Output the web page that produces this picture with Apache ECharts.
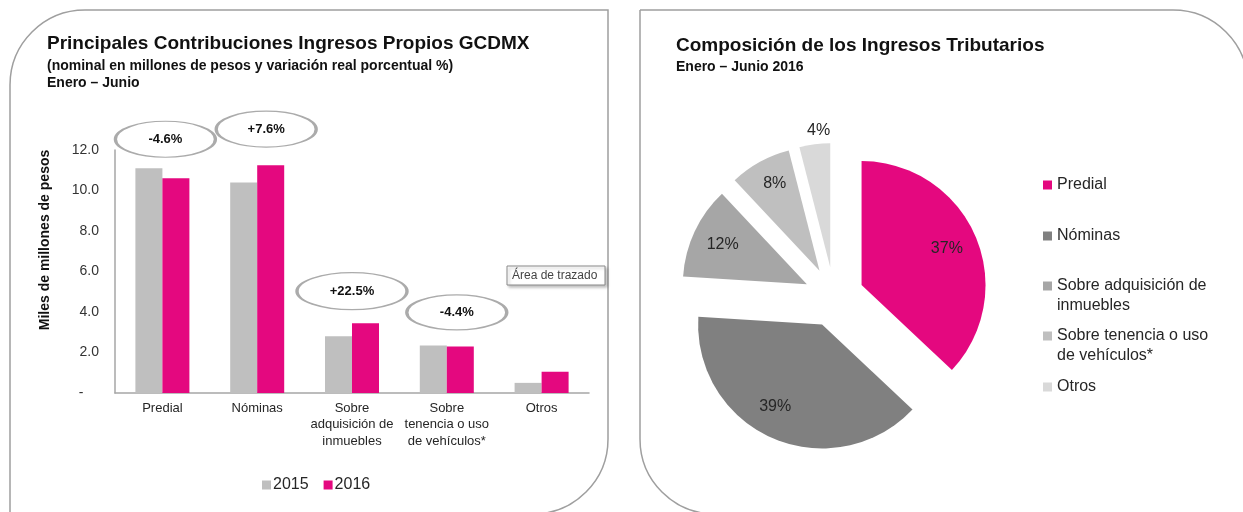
<!DOCTYPE html>
<html>
<head>
<meta charset="utf-8">
<script src="https://cdn.jsdelivr.net/npm/echarts@6/dist/echarts.min.js"></script>
<style>
    html, body { margin: 0; padding: 0; background: #fff; }
    #chart { width: 1243px; height: 512px; }
</style>
</head>
<body>
<div id="chart"></div>
<script>
// bar chart data (miles de millones de pesos)
const CATEGORIES = ['Predial', 'Nóminas', 'Sobre\nadquisición de\ninmuebles', 'Sobre\ntenencia o uso\nde vehículos*', 'Otros'];
const SERIES_NAMES = ['2015', '2016'];
const VALUES_2015 = [11.1, 10.4, 2.8, 2.35, 0.5];
const VALUES_2016 = [10.6, 11.25, 3.45, 2.3, 1.05];
const VARIATION = ['-4.6%', '+7.6%', '+22.5%', '-4.4%'];
const Y_MIN = 0;
const Y_MAX = 12;
const Y_STEP = 2;

// pie data (% of ingresos tributarios)
const PIE_NAMES = ['Predial', 'Nóminas', 'Sobre adquisición de inmuebles', 'Sobre tenencia o uso de vehículos*', 'Otros'];
const PIE_SHARES = [37, 39, 12, 8, 4];
const PIE_LEGEND_TEXT = ['Predial', 'Nóminas', 'Sobre adquisición de\ninmuebles', 'Sobre tenencia o uso\nde vehículos*', 'Otros'];

const MAGENTA = '#e4087f';
const BAR_COLORS = ['#bfbfbf', MAGENTA];
const PIE_COLORS = [MAGENTA, '#808080', '#a6a6a6', '#bfbfbf', '#d9d9d9'];
const FONT = '"Liberation Sans", Arial, sans-serif';

// ellipse callouts: pixel shift from the taller bar top, and size
const ELLIPSE_SHIFT = [[3, -29], [9, -36], [0, -32], [10, -33]];
const ELLIPSE_SIZE = [[100, 36], [100, 36], [110, 37], [100, 35]];
const ELLIPSE = 'path://M0,18A50,18,0,1,1,100,18A50,18,0,1,1,0,18Z';

const chart = echarts.init(document.getElementById('chart'));

const ellipseData = VARIATION.map((t, i) => ({
    value: [i, Math.max(VALUES_2015[i], VALUES_2016[i])],
    symbolOffset: ELLIPSE_SHIFT[i],
    symbolSize: ELLIPSE_SIZE[i]
}));

const pieData = PIE_NAMES.map((n, i) => ({
    name: n,
    value: PIE_SHARES[i],
    selected: true,
    itemStyle: { color: PIE_COLORS[i] }
}));

// one legend per pie item so the spacing can follow the original
const LEGEND_TOPS = [175, 226, 256, 306, 377];
const pieLegends = PIE_NAMES.map((n, i) => ({
    data: [n],
    left: 1043,
    top: LEGEND_TOPS[i],
    padding: 0,
    orient: 'vertical',
    icon: 'rect',
    itemWidth: 9,
    itemHeight: 9,
    itemGap: 0,
    selectedMode: false,
    formatter: () => (PIE_LEGEND_TEXT[i].indexOf('\n') >= 0 ? '\n' : '') + PIE_LEGEND_TEXT[i],
    textStyle: { fontSize: 16, lineHeight: 20, color: '#262626', fontFamily: FONT }
}));

chart.setOption({
    animation: false,
    textStyle: { fontFamily: FONT },
    title: [{
        text: 'Principales Contribuciones Ingresos Propios GCDMX',
        subtext: '(nominal en millones de pesos y variación real porcentual %)\nEnero – Junio',
        left: 47,
        top: 33,
        itemGap: 3,
        padding: 0,
        textStyle: { fontSize: 19, lineHeight: 22, fontWeight: 'bold', color: '#111' },
        subtextStyle: { fontSize: 14, lineHeight: 16.5, fontWeight: 'bold', color: '#111' }
    }, {
        text: 'Composición de los Ingresos Tributarios',
        subtext: 'Enero – Junio 2016',
        left: 676,
        top: 35,
        itemGap: 2,
        padding: 0,
        textStyle: { fontSize: 19, lineHeight: 22, fontWeight: 'bold', color: '#111' },
        subtextStyle: { fontSize: 14, lineHeight: 16, fontWeight: 'bold', color: '#111' }
    }],
    legend: [{
        data: SERIES_NAMES,
        left: 262,
        top: 477,
        padding: 0,
        icon: 'rect',
        itemWidth: 9,
        itemHeight: 9,
        itemGap: 15,
        selectedMode: false,
        textStyle: { fontSize: 16, color: '#262626', padding: [0, 0, 0, -3] }
    }].concat(pieLegends),
    grid: {
        left: 115,
        right: 654,
        top: 150,
        bottom: 119
    },
    xAxis: {
        type: 'category',
        data: CATEGORIES,
        axisTick: { show: false },
        axisLine: { lineStyle: { color: '#a6a6a6', width: 1.5 } },
        axisLabel: {
            interval: 0,
            margin: 7,
            fontSize: 13,
            lineHeight: 16.5,
            color: '#262626'
        }
    },
    yAxis: {
        type: 'value',
        min: Y_MIN,
        max: Y_MAX,
        interval: Y_STEP,
        axisLine: { show: true, lineStyle: { color: '#a6a6a6', width: 1.5 } },
        axisTick: { show: false },
        splitLine: { show: false },
        axisLabel: {
            margin: 16,
            fontSize: 14,
            color: '#333',
            formatter: v => (v === 0 ? '-    ' : v.toFixed(1))
        }
    },
    graphic: [{
        type: 'rect',
        shape: { x: 10, y: 10, width: 598, height: 504, r: [75, 0, 75, 0] },
        style: { fill: 'none', stroke: '#9f9f9f', lineWidth: 1.5 },
        silent: true
    }, {
        type: 'rect',
        shape: { x: 640, y: 10, width: 608, height: 504, r: [0, 75, 0, 75] },
        style: { fill: 'none', stroke: '#9f9f9f', lineWidth: 1.5 },
        silent: true
    }, {
        type: 'text',
        x: 45,
        y: 240,
        rotation: Math.PI / 2,
        style: {
            text: 'Miles de millones de pesos',
            font: 'bold 14px ' + FONT,
            fill: '#111',
            align: 'center',
            verticalAlign: 'middle'
        }
    }, {
        type: 'group',
        x: 507,
        y: 266,
        z: 100,
        children: [{
            type: 'rect',
            shape: { x: 0, y: 0, width: 98, height: 19 },
            style: {
                fill: '#fff', stroke: '#8a8a8a', lineWidth: 1,
                shadowBlur: 3, shadowOffsetX: 2, shadowOffsetY: 2, shadowColor: 'rgba(0,0,0,0.25)'
            }
        }, {
            type: 'text',
            x: 5,
            y: 10,
            style: {
                text: 'Área de trazado',
                font: '12px ' + FONT,
                fill: '#444',
                verticalAlign: 'middle'
            }
        }]
    }],
    series: [{
        name: SERIES_NAMES[0],
        type: 'bar',
        data: VALUES_2015,
        barWidth: 27,
        barGap: '0%',
        itemStyle: { color: BAR_COLORS[0] }
    }, {
        name: SERIES_NAMES[1],
        type: 'bar',
        data: VALUES_2016,
        barWidth: 27,
        barGap: '0%',
        itemStyle: { color: BAR_COLORS[1] }
    }, {
        type: 'scatter',
        data: ellipseData,
        symbol: ELLIPSE,
        clip: false,
        silent: true,
        itemStyle: { color: '#fff', borderColor: '#ababab', borderWidth: 2, opacity: 1 },
        label: {
            show: true,
            position: 'inside',
            formatter: p => VARIATION[p.dataIndex],
            fontSize: 13,
            fontWeight: 'bold',
            color: '#111'
        },
        z: 5
    }, {
        name: 'Composición',
        type: 'pie',
        center: [834, 297],
        radius: 124,
        startAngle: 90,
        clockwise: true,
        selectedMode: 'multiple',
        selectedOffset: 30,
        avoidLabelOverlap: false,
        silent: true,
        label: { show: false },
        labelLine: { show: false },
        emphasis: { scale: false },
        data: pieData
    }, {
        // transparent twin pie that only carries the percentage labels
        type: 'pie',
        center: [834, 297],
        radius: 180,
        startAngle: 90,
        clockwise: true,
        selectedMode: 'multiple',
        selectedOffset: 30,
        avoidLabelOverlap: false,
        silent: true,
        itemStyle: { color: 'rgba(0,0,0,0)' },
        label: {
            show: true,
            position: 'inside',
            formatter: '{c}%',
            fontSize: 16,
            color: '#262626'
        },
        labelLine: { show: false },
        labelLayout: p => {
            if (p.dataIndex === 4) return { dy: -44 };
            if (p.dataIndex === 1) return { dx: -10, dy: -3 };
            if (p.dataIndex === 3) return { dy: -6 };
            return {};
        },
        emphasis: { scale: false },
        data: PIE_NAMES.map((n, i) => ({ name: n, value: PIE_SHARES[i], selected: true, itemStyle: { color: 'rgba(0,0,0,0)' } }))
    }]
});
</script>
</body>
</html>
